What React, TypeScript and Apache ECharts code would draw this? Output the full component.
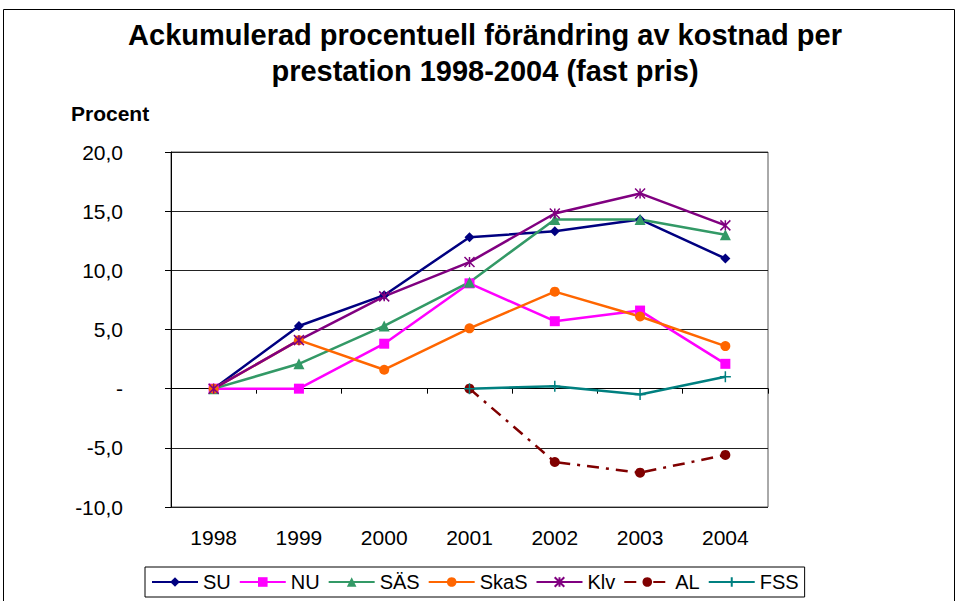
import React, { useEffect, useRef } from "react";
import * as echarts from "echarts";

const years = ["1998", "1999", "2000", "2001", "2002", "2003", "2004"];
const su = [0, 5.3, 7.9, 12.8, 13.3, 14.3, 11.0];
const nu = [0, 0, 3.8, 8.9, 5.7, 6.6, 2.1];
const sas = [0, 2.1, 5.3, 9.0, 14.3, 14.3, 13.0];
const skas = [0, 4.1, 1.6, 5.1, 8.2, 6.1, 3.6];
const klv = [0, 4.1, 7.8, 10.7, 14.8, 16.5, 13.8];
const al = [null, null, null, 0, -6.2, -7.1, -5.6];
const fss = [null, null, null, 0, 0.2, -0.5, 1.0];

const FONT = "'Liberation Sans', Arial, sans-serif";

export default function App() {
  const ref = useRef<HTMLDivElement>(null);
  useEffect(() => {
    if (!ref.current) return;
    const chart = echarts.init(ref.current, undefined, { renderer: "svg" });
    const mk = (
      name: string,
      data: (number | null)[],
      color: string,
      symbol: string,
      symbolSize: number,
      extra: any = {}
    ) => ({
      name,
      type: "line",
      data,
      xAxisIndex: 0,
      yAxisIndex: 0,
      symbol,
      symbolSize,
      lineStyle: { color, width: 2.5, ...(extra.lineStyle || {}) },
      itemStyle: { color, borderColor: color, borderWidth: extra.borderWidth ?? 0 },
      connectNulls: false,
    });
    chart.setOption({
      animation: false,
      textStyle: { fontFamily: FONT },
      title: {
        text: "Ackumulerad procentuell förändring av kostnad per\nprestation 1998-2004 (fast pris)",
        left: 485,
        textAlign: "center",
        top: 17,
        padding: 0,
        textStyle: {
          fontFamily: FONT,
          fontSize: 29,
          fontWeight: "bold",
          color: "#000",
          lineHeight: 36,
        },
      },
      legend: {
        left: 145,
        top: 567,
        padding: [5, 6, 5, 6],
        borderColor: "#000",
        borderWidth: 1,
        itemWidth: 46,
        itemHeight: 12,
        itemGap: 8,
        textStyle: { fontFamily: FONT, fontSize: 20, color: "#000" },
        data: ["SU", "NU", "SÄS", "SkaS", "Klv", "AL", "FSS"],
      },
      graphic: [
        {
          type: "rect",
          shape: { x: 3.5, y: 9.5, width: 951, height: 620 },
          style: { fill: "none", stroke: "#000", lineWidth: 1 },
          silent: true,
          z: -1,
        },
        {
          type: "text",
          x: 71,
          y: 113,
          style: {
            text: "Procent",
            fontFamily: FONT,
            fontSize: 21,
            fontWeight: "bold",
            fill: "#000",
            verticalAlign: "middle",
          },
        },
      ],
      grid: {
        left: 171,
        top: 152,
        width: 597,
        height: 355,
        show: true,
        borderColor: "#555",
        borderWidth: 1,
        containLabel: false,
      },
      xAxis: [
        {
          type: "category",
          data: years,
          boundaryGap: true,
          axisLine: { onZero: true, lineStyle: { color: "#000", width: 1 } },
          axisTick: { show: true, interval: 0, length: 5, lineStyle: { color: "#000" } },
          axisLabel: { show: false },
          splitLine: { show: false },
        },
        {
          type: "category",
          data: years,
          position: "bottom",
          boundaryGap: true,
          axisLine: { show: false, onZero: false },
          axisTick: { show: false },
          axisLabel: { show: true, fontSize: 21, color: "#000", fontFamily: FONT, margin: 20 },
          splitLine: { show: false },
        },
      ],
      yAxis: {
        type: "value",
        min: -10,
        max: 20,
        interval: 5,
        axisLine: { show: true, lineStyle: { color: "#000", width: 1 } },
        axisTick: { show: true, length: 6, lineStyle: { color: "#000" } },
        axisLabel: {
          fontSize: 21,
          color: "#000",
          fontFamily: FONT,
          margin: 48,
          align: "right",
          formatter: (v: number) => (v === 0 ? "-" : v.toFixed(1).replace(".", ",")),
        },
        splitLine: { show: true, lineStyle: { color: "#222", width: 1 } },
      },
      series: [
        mk("SU", su, "#000080", "diamond", 10),
        mk("NU", nu, "#FF00FF", "rect", 10),
        mk("SÄS", sas, "#339966", "triangle", 11),
        mk("SkaS", skas, "#FF6600", "circle", 10),
        mk("Klv", klv, "#800080", "path://M0,0L10,10M10,0L0,10M5,0L5,10", 10, { borderWidth: 1.5 }),
        mk("AL", al, "#800000", "circle", 10, { lineStyle: { type: [12, 7, 3, 7] } }),
        mk("FSS", fss, "#008080", "path://M5,0L5,10M0,5L10,5", 11, { borderWidth: 1.5 }),
      ],
    });
    return () => chart.dispose();
  }, []);
  return (
    <div
      ref={ref}
      style={{ position: "fixed", left: 0, top: 0, width: 961, height: 601, background: "#fff" }}
    />
  );
}
